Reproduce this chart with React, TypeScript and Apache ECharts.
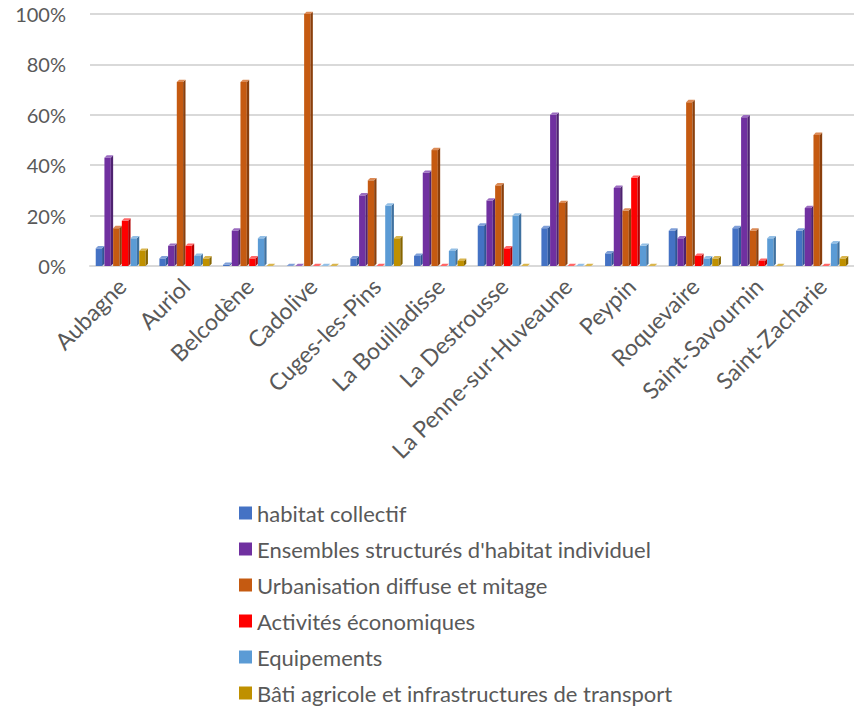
import React, { useEffect, useRef } from "react";
import * as echarts from "echarts";

const categories = [
  "Aubagne", "Auriol", "Belcodène", "Cadolive", "Cuges-les-Pins", "La Bouilladisse",
  "La Destrousse", "La Penne-sur-Huveaune", "Peypin", "Roquevaire", "Saint-Savournin", "Saint-Zacharie",
];
const seriesNames = [
  "habitat collectif",
  "Ensembles structurés d'habitat individuel",
  "Urbanisation diffuse et mitage",
  "Activités économiques",
  "Equipements",
  "Bâti agricole et infrastructures de transport",
];
const habitatCollectif = [7, 3, 0.5, 0, 3, 4, 16, 15, 5, 14, 15, 14];
const ensemblesStructures = [43, 8, 14, 0, 28, 37, 26, 60, 31, 11, 59, 23];
const urbanisationDiffuse = [15, 73, 73, 100, 34, 46, 32, 25, 22, 65, 14, 52];
const activitesEconomiques = [18, 8, 3, 0, 0, 0, 7, 0, 35, 4, 2, 0];
const equipements = [11, 4, 11, 0, 24, 6, 20, 0, 8, 3, 11, 9];
const batiAgricole = [6, 3, 0, 0, 11, 2, 0, 0, 0, 3, 0, 3];
const yTicks = [0, 20, 40, 60, 80, 100];

const allSeries = [habitatCollectif, ensemblesStructures, urbanisationDiffuse, activitesEconomiques, equipements, batiAgricole];
const colors = ["#4472c4", "#7030a0", "#c55a11", "#ff0000", "#5b9bd5", "#bf9000"];
const darks = ["#2f5597", "#4e2270", "#8a3f0c", "#b30000", "#3f71a0", "#866500"];
const lights = ["#7f9fd8", "#9b6cc0", "#dc8a55", "#ff6666", "#93bfe6", "#d9b54d"];

const FONT = "Lato";

export default function App() {
  const ref = useRef<HTMLDivElement>(null);
  useEffect(() => {
    document.body.style.margin = "0";
    const chart = echarts.init(ref.current!, null, { renderer: "svg" });
    const series = allSeries.map((vals, idx) => ({
      type: "custom",
      name: seriesNames[idx],
      itemStyle: { color: colors[idx] },
      encode: { x: 0, y: 1 },
      data: vals.map((v, i) => [i, v]),
      renderItem: (params: any, api: any) => {
        const cat = api.value(0);
        const v = api.value(1);
        const base = api.coord([cat, 0]);
        const top = api.coord([cat, v]);
        const bw = api.size([1, 0])[0];
        const groupW = bw * 0.82;
        const slot = groupW / 6;
        const d = slot * 0.27;
        const fw = slot - d;
        const x0 = base[0] - groupW / 2 + idx * slot;
        const yB = base[1];
        const yT = top[1];
        return {
          type: "group",
          children: [
            { type: "rect", shape: { x: x0, y: yT, width: fw, height: Math.max(0, yB - yT) }, style: { fill: colors[idx] } },
            {
              type: "polygon",
              shape: { points: [[x0 + fw, yT], [x0 + fw + d, yT - d], [x0 + fw + d, yB - d], [x0 + fw, yB]] },
              style: { fill: darks[idx] },
            },
            {
              type: "polygon",
              shape: { points: [[x0, yT], [x0 + d, yT - d], [x0 + fw + d, yT - d], [x0 + fw, yT]] },
              style: { fill: lights[idx] },
            },
          ],
        };
      },
    }));
    chart.setOption({
      animation: false,
      textStyle: { fontFamily: FONT },
      grid: { left: 90, right: 0, top: 14, height: 252 },
      xAxis: {
        type: "category",
        data: categories,
        axisLine: { show: true, lineStyle: { color: "#d9d9d9", width: 2 } },
        axisTick: { show: false },
        axisLabel: { rotate: 45, interval: 0, fontSize: 23, color: "#595959", fontFamily: FONT, margin: 16 },
      },
      yAxis: {
        type: "value",
        min: yTicks[0],
        max: yTicks[yTicks.length - 1],
        interval: 20,
        axisLine: { show: false },
        axisTick: { show: false },
        splitLine: { lineStyle: { color: "#d9d9d9", width: 2 } },
        axisLabel: { formatter: "{value}%", fontSize: 20, color: "#595959", fontFamily: FONT, margin: 24, padding: [11, 0, 0, 0] },
      },
      legend: {
        orient: "vertical",
        left: 234,
        top: 497,
        height: 300,
        icon: "rect",
        itemWidth: 13,
        itemHeight: 13,
        itemGap: 14,
        data: seriesNames,
        textStyle: { fontSize: 22, lineHeight: 22, color: "#595959", fontFamily: FONT },
      },
      series,
    });
    return () => chart.dispose();
  }, []);
  return <div ref={ref} style={{ width: 854, height: 707 }} />;
}
